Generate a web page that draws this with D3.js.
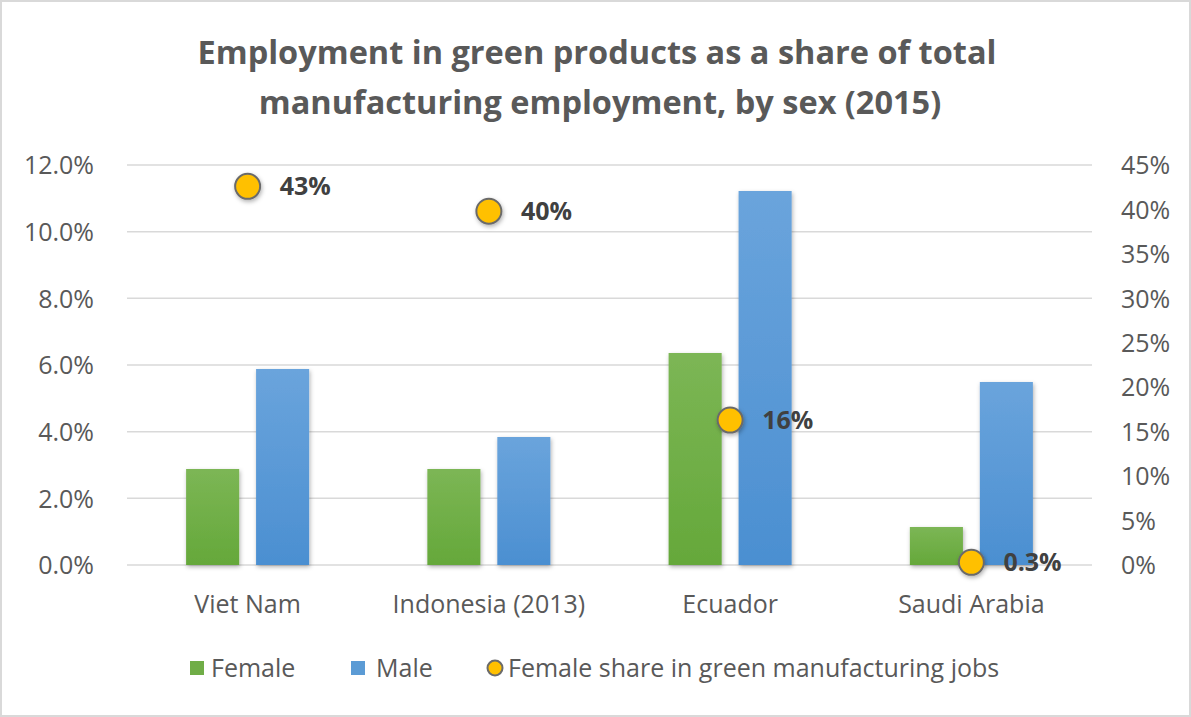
<!DOCTYPE html>
<html>
<head>
<meta charset="utf-8">
<script src="https://cdn.jsdelivr.net/npm/d3@7"></script>
<style>
  body { margin: 0; background: #fff; }
  svg text { font-family: "Open Sans", "Noto Sans", sans-serif; fill: #595959; }
</style>
</head>
<body>
<div id="chart"></div>
<script>
var countries = ['Viet Nam', 'Indonesia (2013)', 'Ecuador', 'Saudi Arabia'];
var femaleShare = [2.88, 2.88, 6.36, 1.14];   // % of manufacturing employment
var maleShare = [5.88, 3.84, 11.22, 5.49];
var femaleJobs = [42.6, 39.8, 16.3, 0.3];     // right axis, %
var femaleJobLabels = ['43%', '40%', '16%', '0.3%'];
var leftTicks = [0, 2, 4, 6, 8, 10, 12];
var rightTicks = [0, 5, 10, 15, 20, 25, 30, 35, 40, 45];

var width = 1191, height = 717;
var margin = {top: 165, right: 99, bottom: 152, left: 127};
var innerW = width - margin.left - margin.right,
    innerH = height - margin.top - margin.bottom;
var fs = '25px';

var svg = d3.select('#chart').append('svg')
    .attr('width', width)
    .attr('height', height);

var defs = svg.append('defs');

function gradient(id, top, bottom) {
  var g = defs.append('linearGradient')
      .attr('id', id)
      .attr('x1', 0).attr('y1', 0).attr('x2', 0).attr('y2', 1);
  g.append('stop').attr('offset', '0%').attr('stop-color', top);
  g.append('stop').attr('offset', '100%').attr('stop-color', bottom);
}
gradient('gFemale', '#7cb655', '#65a83a');
gradient('gMale', '#6aa4dc', '#4b8fd1');

var shadow = defs.append('filter').attr('id', 'shadow')
    .attr('x', '-30%').attr('y', '-30%').attr('width', '160%').attr('height', '160%');
shadow.append('feDropShadow')
    .attr('dx', 1).attr('dy', 2).attr('stdDeviation', 2)
    .attr('flood-color', '#000').attr('flood-opacity', 0.3);

// outer border
svg.append('rect')
    .attr('x', 1).attr('y', 1)
    .attr('width', width - 2).attr('height', height - 2)
    .attr('fill', 'none')
    .attr('stroke', '#d9d9d9')
    .attr('stroke-width', 2);

// title
var title = svg.append('text')
    .attr('text-anchor', 'middle')
    .style('font-size', '32.5px')
    .style('font-weight', 'bold');
title.append('tspan').attr('x', 597).attr('y', 64)
    .text('Employment in green products as a share of total');
title.append('tspan').attr('x', 600).attr('y', 114)
    .text('manufacturing employment, by sex (2015)');

var g = svg.append('g')
    .attr('transform', 'translate(' + margin.left + ',' + margin.top + ')');

var x = d3.scaleBand().domain(countries).range([0, innerW]);
var yL = d3.scaleLinear().domain([0, 12]).range([innerH, 0]);
var yR = d3.scaleLinear().domain([0, 45]).range([innerH, 0]);

// gridlines
g.append('g')
  .selectAll('line')
  .data(leftTicks)
  .enter().append('line')
    .attr('x1', 0).attr('x2', innerW)
    .attr('y1', function(d) { return yL(d); })
    .attr('y2', function(d) { return yL(d); })
    .attr('stroke', '#d9d9d9')
    .attr('stroke-width', 1.5);

// left axis
var leftAxis = g.append('g')
    .attr('transform', 'translate(-30,0)')
    .call(d3.axisLeft(yL).tickValues(leftTicks)
      .tickFormat(function(d) { return d.toFixed(1) + '%'; })
      .tickSize(0));
leftAxis.select('.domain').remove();
leftAxis.selectAll('text').style('font-size', fs).attr('dy', '0.35em');

// right axis
var rightAxis = g.append('g')
    .attr('transform', 'translate(' + (innerW + 26) + ',0)')
    .call(d3.axisRight(yR).tickValues(rightTicks)
      .tickFormat(function(d) { return d + '%'; })
      .tickSize(0));
rightAxis.select('.domain').remove();
rightAxis.selectAll('text').style('font-size', fs).attr('dy', '0.35em');

// category labels
g.append('g')
  .selectAll('text')
  .data(countries)
  .enter().append('text')
    .attr('x', function(d) { return x(d) + x.bandwidth() / 2; })
    .attr('y', innerH + 48)
    .attr('text-anchor', 'middle')
    .style('font-size', fs)
    .text(function(d) { return d; });

var barW = x.bandwidth() * 0.22, gap = x.bandwidth() * 0.07;

var bars = g.append('g').attr('filter', 'url(#shadow)');
bars.selectAll('.female')
  .data(countries)
  .enter().append('rect')
    .attr('class', 'female')
    .attr('x', function(d) { return x(d) + x.bandwidth() / 2 - gap / 2 - barW; })
    .attr('y', function(d, i) { return yL(femaleShare[i]); })
    .attr('width', barW)
    .attr('height', function(d, i) { return innerH - yL(femaleShare[i]); })
    .attr('fill', 'url(#gFemale)');
bars.selectAll('.male')
  .data(countries)
  .enter().append('rect')
    .attr('class', 'male')
    .attr('x', function(d) { return x(d) + x.bandwidth() / 2 + gap / 2; })
    .attr('y', function(d, i) { return yL(maleShare[i]); })
    .attr('width', barW)
    .attr('height', function(d, i) { return innerH - yL(maleShare[i]); })
    .attr('fill', 'url(#gMale)');

// female share markers
var dots = g.append('g');
dots.selectAll('circle')
  .data(countries)
  .enter().append('circle')
    .attr('cx', function(d) { return x(d) + x.bandwidth() / 2; })
    .attr('cy', function(d, i) { return yR(femaleJobs[i]); })
    .attr('r', 12.5)
    .attr('fill', '#ffc000')
    .attr('stroke', '#6b6b6b')
    .attr('stroke-width', 2)
    .attr('filter', 'url(#shadow)');
dots.selectAll('text')
  .data(countries)
  .enter().append('text')
    .attr('x', function(d) { return x(d) + x.bandwidth() / 2 + 32; })
    .attr('y', function(d, i) { return yR(femaleJobs[i]); })
    .attr('dy', '0.35em')
    .style('font-size', '25px')
    .style('font-weight', 'bold')
    .style('fill', '#404040')
    .text(function(d, i) { return femaleJobLabels[i]; });

// legend
var legend = svg.append('g').attr('transform', 'translate(0,668)');
legend.append('rect').attr('x', 190).attr('y', -7).attr('width', 14).attr('height', 14)
    .attr('fill', '#70ad47');
legend.append('text').attr('x', 211).attr('dy', '0.35em')
    .style('font-size', fs).text('Female');
legend.append('rect').attr('x', 351).attr('y', -7).attr('width', 14).attr('height', 14)
    .attr('fill', '#5b9bd5');
legend.append('text').attr('x', 376).attr('dy', '0.35em')
    .style('font-size', fs).text('Male');
legend.append('circle').attr('cx', 495).attr('cy', 0).attr('r', 7.5)
    .attr('fill', '#ffc000').attr('stroke', '#6b6b6b').attr('stroke-width', 2);
legend.append('text').attr('x', 508).attr('dy', '0.35em')
    .style('font-size', fs).text('Female share in green manufacturing jobs');
</script>
</body>
</html>
